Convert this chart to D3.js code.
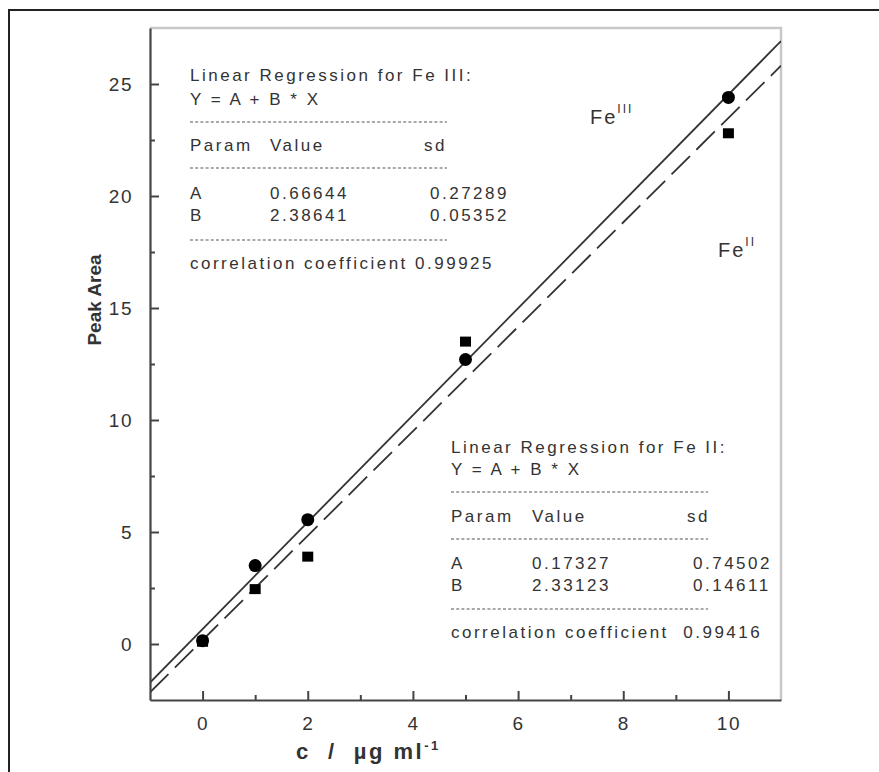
<!DOCTYPE html>
<html>
<head>
<meta charset="utf-8">
<script src="https://cdn.jsdelivr.net/npm/d3@7"></script>
<style>
  html, body { margin: 0; padding: 0; background: #fff; }
  svg { display: block; }
  text { font-family: "Liberation Sans", Arial, sans-serif; fill: #333; }
</style>
</head>
<body>
<svg id="chart" width="879" height="772"></svg>
<script>
// Calibration data: peak area vs. iron concentration
const concentrations = [0, 1, 2, 5, 10];
const feIIIArea = [0.15, 3.5, 5.55, 12.7, 24.4];
const feIIArea  = [0.1, 2.45, 3.9, 13.5, 22.8];

// Linear regression results (Y = A + B * X)
const paramNames = ["A", "B"];
const feIIIValues = [0.66644, 2.38641];
const feIIISd     = [0.27289, 0.05352];
const feIIIR      = "0.99925";
const feIIValues  = [0.17327, 2.33123];
const feIISd      = [0.74502, 0.14611];
const feIIR       = "0.99416";

// Axis ticks
const xMajorTicks = [0, 2, 4, 6, 8, 10];
const xMinorTicks = [1, 3, 5, 7, 9];
const yMajorTicks = [0, 5, 10, 15, 20, 25];
const yMinorTicks = [2.5, 7.5, 12.5, 17.5, 22.5];

const svg = d3.select("#chart");

// outer frame
svg.append("rect")
  .attr("x", 9).attr("y", 10).attr("width", 900).attr("height", 800)
  .attr("fill", "none").attr("stroke", "#222").attr("stroke-width", 2);

const plot = { left: 150, right: 781, top: 28, bottom: 700 };
const x = d3.scaleLinear().domain([-1, 11]).range([plot.left, plot.right]);
const y = d3.scaleLinear().domain([-2.5, 27.5]).range([plot.bottom, plot.top]);

// top and right frame of plot
svg.append("path")
  .attr("d", `M${plot.left},${plot.top}H${plot.right}V${plot.bottom}`)
  .attr("fill", "none").attr("stroke", "#c8c8c8").attr("stroke-width", 2.5);

svg.append("defs").append("clipPath").attr("id", "plotclip")
  .append("rect")
  .attr("x", plot.left).attr("y", plot.top)
  .attr("width", plot.right - plot.left).attr("height", plot.bottom - plot.top);

// regression lines
const fitLine = (vals) => d3.line()
  .x(d => x(d))
  .y(d => y(vals[0] + vals[1] * d));
const xs = x.domain();

svg.append("path")
  .attr("clip-path", "url(#plotclip)")
  .attr("d", fitLine(feIIIValues)(xs))
  .attr("fill", "none").attr("stroke", "#333").attr("stroke-width", 1.8);

svg.append("path")
  .attr("clip-path", "url(#plotclip)")
  .attr("d", fitLine(feIIValues)(xs))
  .attr("fill", "none").attr("stroke", "#333").attr("stroke-width", 1.8)
  .attr("stroke-dasharray", "26,9");

// data markers
svg.append("g").selectAll("circle")
  .data(concentrations.map((c, i) => [c, feIIIArea[i]]))
  .join("circle")
  .attr("cx", d => x(d[0])).attr("cy", d => y(d[1]))
  .attr("r", 6.5).attr("fill", "#000");

svg.append("g").selectAll("rect")
  .data(concentrations.map((c, i) => [c, feIIArea[i]]))
  .join("rect")
  .attr("x", d => x(d[0]) - 5.5).attr("y", d => y(d[1]) - 5)
  .attr("width", 11).attr("height", 10).attr("fill", "#000");

// axes with inward ticks
svg.append("g").attr("transform", `translate(0,${plot.bottom})`)
  .call(d3.axisBottom(x).tickValues(xMajorTicks).tickSizeInner(-9).tickSizeOuter(0).tickPadding(17));
svg.append("g").attr("transform", `translate(0,${plot.bottom})`)
  .call(d3.axisBottom(x).tickValues(xMinorTicks).tickSizeInner(-5).tickSizeOuter(0).tickFormat(""))
  .select(".domain").remove();
svg.append("g").attr("transform", `translate(${plot.left},0)`)
  .call(d3.axisLeft(y).tickValues(yMajorTicks).tickSizeInner(-9).tickSizeOuter(0).tickPadding(17));
svg.append("g").attr("transform", `translate(${plot.left},0)`)
  .call(d3.axisLeft(y).tickValues(yMinorTicks).tickSizeInner(-5).tickSizeOuter(0).tickFormat(""))
  .select(".domain").remove();

svg.selectAll(".domain").attr("stroke", "#444").attr("stroke-width", 2.2);
svg.selectAll(".tick line").attr("stroke", "#444").attr("stroke-width", 2);
svg.selectAll(".tick text")
  .attr("font-size", 19).attr("fill", "#333")
  .style("font-family", "'Liberation Sans', Arial, sans-serif")
  .style("letter-spacing", "1.5px");

// axis titles
svg.append("text")
  .attr("transform", `translate(101,300) rotate(-90)`)
  .attr("text-anchor", "middle")
  .attr("font-size", 19).attr("font-weight", "bold").attr("fill", "#222")
  .text("Peak Area");

const xt = svg.append("text")
  .attr("x", 296).attr("y", 759)
  .attr("font-size", 22).attr("font-weight", "bold").attr("fill", "#222")
  .style("letter-spacing", "2.5px")
  .attr("xml:space", "preserve");
xt.append("tspan").text("c  /  µg ml");
xt.append("tspan").attr("dy", -9).attr("font-size", 13).text("-1");

// regression summaries
function legend(x0, baselines, dashYs, xCols, title, values, sds, r, rGap) {
  const g = svg.append("g")
    .attr("font-size", 17)
    .style("letter-spacing", "2.5px");
  const rows = [
    [title],
    ["Y = A + B * X"],
    ["Param", "Value", "sd"],
    [paramNames[0], values[0].toFixed(5), sds[0].toFixed(5)],
    [paramNames[1], values[1].toFixed(5), sds[1].toFixed(5)],
    ["correlation coefficient" + rGap + r]
  ];
  rows.forEach((row, i) => {
    row.forEach((t, j) => {
      g.append("text")
        .attr("x", j === 0 ? x0 : xCols[j - 1] + (i === 2 && j === 2 ? -6 : 0))
        .attr("y", baselines[i])
        .attr("xml:space", "preserve")
        .text(t);
    });
  });
  dashYs.forEach(dy => {
    g.append("line")
      .attr("x1", x0).attr("x2", x0 + 257)
      .attr("y1", dy).attr("y2", dy)
      .attr("stroke", "#555").attr("stroke-width", 1.2)
      .attr("stroke-dasharray", "3,2.2");
  });
}

legend(190, [81, 105, 151, 199, 221, 269], [122, 168, 240], [270, 430],
  "Linear Regression for Fe III:", feIIIValues, feIIISd, feIIIR, " ");
legend(451, [453, 475, 522, 569, 591, 638], [492, 539, 609], [532, 693],
  "Linear Regression for Fe II:", feIIValues, feIISd, feIIR, "  ");

// series labels
function feLabel(lx, ly, ox) {
  const t = svg.append("text")
    .attr("x", lx).attr("y", ly)
    .attr("font-size", 20)
    .style("letter-spacing", "2px");
  t.append("tspan").text("Fe");
  t.append("tspan").attr("dy", -11).attr("font-size", 12).text(ox);
}
feLabel(590, 124, "III");
feLabel(718, 257, "II");
</script>
</body>
</html>
